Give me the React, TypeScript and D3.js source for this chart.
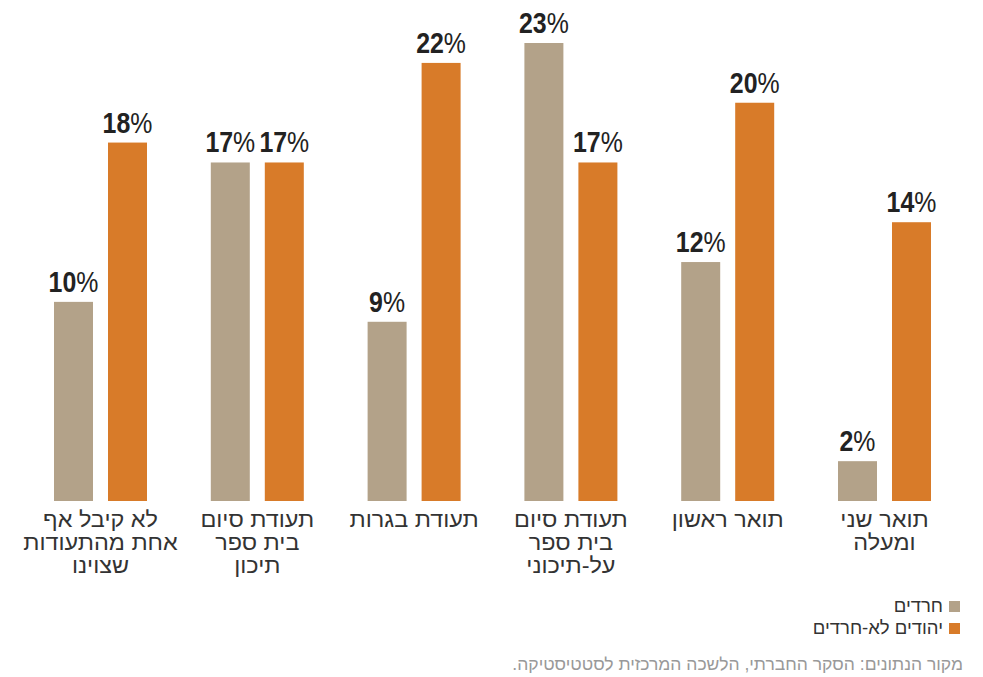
import React from "react";
import * as d3 from "d3";

const categories: string[][] = [
  ["לא קיבל אף", "אחת מהתעודות", "שצוינו"],
  ["תעודת סיום", "בית ספר", "תיכון"],
  ["תעודת בגרות"],
  ["תעודת סיום", "בית ספר", "על-תיכוני"],
  ["תואר ראשון"],
  ["תואר שני", "ומעלה"],
];
const haredi = [10, 17, 9, 23, 12, 2];
const nonHaredi = [18, 17, 22, 17, 20, 14];
const seriesNames = ["חרדים", "יהודים לא-חרדים"];
const seriesColors = ["#b3a289", "#d87b29"];
const sourceText = "מקור הנתונים: הסקר החברתי, הלשכה המרכזית לסטטיסטיקה.";

const W = 983;
const H = 677;

export default function App() {
  const ids = categories.map((_, i) => String(i));
  const x0 = d3.scaleBand<string>().domain(ids).range([22.1, 962.9]).padding(0);
  const x1 = d3.scaleBand<string>().domain(["0", "1"]).range([0, 93]).paddingInner(15 / 54).paddingOuter(0);
  const y = d3.scaleLinear().domain([0, 23]).range([501, 43]);
  const series = [haredi, nonHaredi];
  const off = (x0.bandwidth() - 93) / 2;
  const numFont = "'Liberation Sans', 'DejaVu Sans', sans-serif";
  const hebFont = "'Liberation Sans', 'DejaVu Sans', sans-serif";

  return (
    <svg width={W} height={H} style={{ position: "absolute", left: 0, top: 0, background: "#fff" }}>
      {series.map((vals, si) =>
        vals.map((v, ci) => {
          const bx = (x0(String(ci)) ?? 0) + off + (x1(String(si)) ?? 0);
          const bw = x1.bandwidth();
          return (
            <g key={`${si}-${ci}`}>
              <rect x={bx} y={y(v)} width={bw} height={y(0) - y(v)} fill={seriesColors[si]} />
              <text
                transform={`translate(${bx + bw / 2},${y(v) - 10}) scale(0.83,1)`}
                textAnchor="middle"
                fontFamily={numFont}
                fontSize={30}
                fill="#222"
              >
                <tspan fontWeight="bold">{v}</tspan>
                <tspan fontWeight="normal">%</tspan>
              </text>
            </g>
          );
        })
      )}
      {categories.map((lines, ci) => {
        const cx = (x0(String(ci)) ?? 0) + x0.bandwidth() / 2;
        return (
          <g key={ci}>
            {lines.map((ln, li) => (
              <text
                key={li}
                transform={`translate(${cx},${527 + li * 23}) scale(1.09,1)`}
                textAnchor="middle"
                fontFamily={hebFont}
                fontSize={21.5}
                fill="#333"
              >
                {ln}
              </text>
            ))}
          </g>
        );
      })}
      {seriesNames.map((n, i) => (
        <g key={n}>
          <rect x={949} y={601 + i * 22} width={11} height={11} fill={seriesColors[i]} />
          <text x={943} y={612 + i * 22} textAnchor="end" fontFamily={hebFont} fontSize={18.5} fill="#333">
            {n}
          </text>
        </g>
      ))}
      <text x={963} y={670} textAnchor="end" fontFamily={hebFont} fontSize={17.5} fill="#999">
        {"\u200F" + sourceText + "\u200F"}
      </text>
    </svg>
  );
}
